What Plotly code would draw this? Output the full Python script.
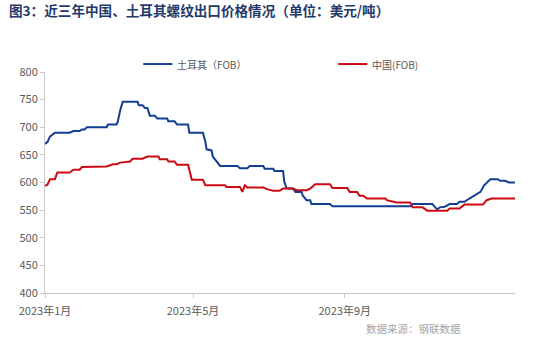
import plotly.graph_objects as go

# Turkey rebar export price (FOB), USD/t
tr_dates = ["2023-01-01", "2023-01-03", "2023-01-05", "2023-01-09", "2023-01-21", "2023-01-24",
            "2023-01-29", "2023-01-31", "2023-02-02", "2023-02-04", "2023-02-20", "2023-02-21",
            "2023-02-28", "2023-03-01", "2023-03-03", "2023-03-05", "2023-03-17", "2023-03-18",
            "2023-03-21", "2023-03-23", "2023-03-25", "2023-03-27", "2023-03-31", "2023-04-02",
            "2023-04-10", "2023-04-11", "2023-04-16", "2023-04-18", "2023-04-27", "2023-04-28",
            "2023-05-09", "2023-05-11", "2023-05-12", "2023-05-16", "2023-05-17", "2023-05-20",
            "2023-05-23", "2023-06-06", "2023-06-08", "2023-06-14", "2023-06-16", "2023-06-27",
            "2023-06-28", "2023-07-05", "2023-07-06", "2023-07-13", "2023-07-14", "2023-07-16",
            "2023-07-21", "2023-07-23", "2023-07-28", "2023-07-29", "2023-08-01", "2023-08-04",
            "2023-08-05", "2023-08-20", "2023-08-22", "2023-10-24", "2023-10-26", "2023-11-11",
            "2023-11-15", "2023-11-17", "2023-11-21", "2023-11-25", "2023-12-01", "2023-12-03",
            "2023-12-07", "2023-12-11", "2023-12-16", "2023-12-20", "2023-12-23", "2023-12-28",
            "2024-01-03", "2024-01-05", "2024-01-09", "2024-01-12", "2024-01-17"]
tr_values = [670, 673, 683, 690, 690, 693,
             693, 696, 696, 700, 700, 705,
             705, 710, 731, 746, 746, 740,
             740, 735, 735, 721, 721, 716,
             716, 711, 711, 705, 705, 690,
             690, 674, 660, 658, 647, 638,
             630, 630, 626, 626, 630, 630,
             625, 625, 621, 621, 601, 589,
             589, 583, 583, 576, 568, 568,
             561, 561, 557, 557, 561, 561,
             551, 555, 556, 561, 561, 565,
             565, 571, 577, 583, 595, 606,
             606, 603, 603, 600, 600]

# China rebar export price (FOB), USD/t
cn_dates = ["2023-01-01", "2023-01-03", "2023-01-05", "2023-01-09", "2023-01-11", "2023-01-21",
            "2023-01-24", "2023-01-29", "2023-01-31", "2023-02-20", "2023-02-25", "2023-02-28",
            "2023-03-03", "2023-03-11", "2023-03-13", "2023-03-21", "2023-03-25", "2023-04-03",
            "2023-04-04", "2023-04-10", "2023-04-11", "2023-04-16", "2023-04-18", "2023-04-27",
            "2023-04-30", "2023-05-09", "2023-05-11", "2023-05-27", "2023-05-28", "2023-06-08",
            "2023-06-10", "2023-06-12", "2023-06-14", "2023-06-27", "2023-06-30", "2023-07-05",
            "2023-07-10", "2023-07-13", "2023-07-21", "2023-07-24", "2023-08-01", "2023-08-04",
            "2023-08-08", "2023-08-20", "2023-08-22", "2023-09-03", "2023-09-05", "2023-09-11",
            "2023-09-13", "2023-09-16", "2023-09-19", "2023-10-04", "2023-10-05", "2023-10-13",
            "2023-10-24", "2023-10-26", "2023-11-03", "2023-11-07", "2023-11-23", "2023-11-25",
            "2023-12-03", "2023-12-07", "2023-12-22", "2023-12-25", "2023-12-29", "2024-01-17"]
cn_values = [594, 596, 606, 606, 618, 618,
             623, 623, 628, 629, 633, 633,
             636, 638, 643, 643, 647, 647,
             642, 642, 638, 638, 632, 632,
             605, 605, 595, 595, 592, 592,
             583, 595, 591, 591, 588, 585,
             585, 589, 589, 586, 586, 589,
             597, 597, 590, 590, 583, 583,
             576, 576, 571, 571, 568, 564,
             564, 555, 555, 549, 549, 553,
             553, 560, 560, 568, 571, 571]

series_names = ["土耳其（FOB）", "中国(FOB)"]
x_tick_vals = ["2023-01-01", "2023-05-01", "2023-09-01"]
x_tick_text = ["2023年1月", "2023年5月", "2023年9月"]
y_tick_vals = [400, 450, 500, 550, 600, 650, 700, 750, 800]

BLUE = "#123F91"
RED = "#CC0A14"
AXIS = "#C8C8C8"
TEXT = "#595959"
FONT = "Noto Sans CJK SC, sans-serif"

fig = go.Figure()
fig.add_trace(go.Scatter(x=tr_dates, y=tr_values, mode="lines", name=series_names[0],
                         line=dict(color=BLUE, width=2)))
fig.add_trace(go.Scatter(x=cn_dates, y=cn_values, mode="lines", name=series_names[1],
                         line=dict(color=RED, width=2)))

fig.update_layout(
    width=550, height=344,
    margin=dict(l=45, r=35, t=72, b=51),
    paper_bgcolor="white", plot_bgcolor="white",
    font=dict(family=FONT, size=11, color=TEXT),
    showlegend=False,
    xaxis=dict(range=["2023-01-01", "2024-01-17"], tickvals=x_tick_vals, ticktext=x_tick_text,
               showgrid=False, zeroline=False, showline=True, linecolor=AXIS, linewidth=1,
               ticks="outside", ticklen=4, tickcolor=AXIS, ticklabelstandoff=4,
               tickfont=dict(size=11, color=TEXT)),
    yaxis=dict(range=[400, 800], tickvals=y_tick_vals, showgrid=False, zeroline=False,
               showline=True, linecolor=AXIS, linewidth=1, ticks="outside", ticklen=4,
               tickcolor=AXIS, tickfont=dict(size=11, color=TEXT)),
)

# Legend row above the plot: a short line sample followed by the series name
legend_y = 1.036
for name, color, x0 in [(series_names[0], BLUE, 0.209), (series_names[1], RED, 0.624)]:
    fig.add_shape(type="line", xref="paper", yref="paper", x0=x0, x1=x0 + 0.062,
                  y0=legend_y, y1=legend_y, line=dict(color=color, width=2))
    fig.add_annotation(text=name, xref="paper", yref="paper", x=x0 + 0.068, y=legend_y,
                       xanchor="left", yanchor="middle", showarrow=False,
                       font=dict(size=10, color=TEXT, family=FONT))

fig.add_annotation(text="<b>图3：近三年中国、土耳其螺纹出口价格情况（单位：美元/吨）</b>",
                   xref="paper", yref="paper", x=-0.08, y=1.28, xanchor="left", yanchor="middle",
                   showarrow=False, font=dict(size=13.6, color="#1F3A6B", family=FONT))
fig.add_annotation(text="数据来源：钢联数据", xref="paper", yref="paper", x=0.89, y=-0.16,
                   xanchor="right", yanchor="middle", showarrow=False,
                   font=dict(size=10.5, color="#A6A6A6", family=FONT))

fig.write_html("out.html")
